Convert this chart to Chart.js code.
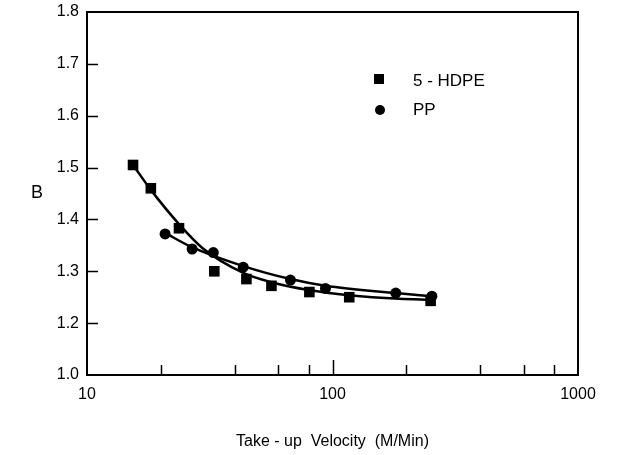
<!DOCTYPE html>
<html lang="en">
<head>
  <meta charset="UTF-8" />
  <title>B vs Take-up Velocity</title>
  <script src="https://cdn.jsdelivr.net/npm/chart.js"></script>
  <style>
    body { margin: 0; background: #fff; }
    #wrap { width: 638px; height: 455px; }
  </style>
</head>
<body>
  <div id="wrap"><canvas id="bChart" width="638" height="455"></canvas></div>

  <script>
    // measured points
    const hdpeX = [15.4, 18.2, 23.7, 33, 44.6, 56.4, 80.5, 117, 251];
    const hdpeY = [1.505, 1.46, 1.383, 1.30, 1.285, 1.272, 1.26, 1.25, 1.243];
    const ppX = [20.8, 26.8, 32.7, 43.3, 67.4, 93.6, 181, 254];
    const ppY = [1.372, 1.343, 1.336, 1.308, 1.283, 1.267, 1.258, 1.252];

    // fitted curves
    const hdpeFitX = [15.4, 18.2, 23.7, 29.5, 43.3, 56.4, 79.9, 117, 187, 251];
    const hdpeFitY = [1.505, 1.457, 1.391, 1.345, 1.297, 1.279, 1.264, 1.254, 1.247, 1.245];
    const ppFitX = [20.8, 26.6, 43.3, 67.4, 93.6, 181, 254];
    const ppFitY = [1.374, 1.347, 1.310, 1.285, 1.272, 1.258, 1.252];

    // axis
    const xLabelTicks = [10, 100, 1000];
    const xTickMarks = [20, 40, 60, 80, 100, 200, 400, 600, 800];
    const yTickMarks = [1.2, 1.3, 1.4, 1.5, 1.6, 1.7];
    const seriesNames = ["5 - HDPE", "PP"];

    const FONT = "'Liberation Sans', Arial, sans-serif";

    const pts = (xs, ys) => xs.map((x, i) => ({ x: x, y: ys[i] }));

    const framePlugin = {
      id: 'frame',
      afterDraw(chart) {
        const ctx = chart.ctx;
        const a = chart.chartArea;
        const xs = chart.scales.x, ys = chart.scales.y;
        ctx.save();
        ctx.strokeStyle = '#000';
        ctx.lineWidth = 2;
        ctx.strokeRect(a.left, a.top, a.right - a.left, a.bottom - a.top);

        // inside tick marks
        ctx.lineWidth = 1.5;
        ctx.beginPath();
        xTickMarks.forEach(v => {
          const px = Math.round(xs.getPixelForValue(v)) + 0.5;
          const len = v === 100 ? 15 : 10;
          ctx.moveTo(px, a.bottom);
          ctx.lineTo(px, a.bottom - len);
        });
        yTickMarks.forEach(v => {
          const py = Math.round(ys.getPixelForValue(v)) + 0.5;
          ctx.moveTo(a.left, py);
          ctx.lineTo(a.left + 11, py);
        });
        ctx.stroke();

        // y title, horizontal
        ctx.fillStyle = '#000';
        ctx.font = '18px ' + FONT;
        ctx.textAlign = 'center';
        ctx.textBaseline = 'middle';
        ctx.fillText('B', 37, 193);

        // legend
        ctx.fillRect(374, 74, 10, 10);
        ctx.beginPath();
        ctx.arc(380, 110, 5, 0, Math.PI * 2);
        ctx.fill();
        ctx.textAlign = 'left';
        ctx.font = '17px ' + FONT;
        ctx.fillText(seriesNames[0], 413, 81);
        ctx.fillText(seriesNames[1], 413, 110);
        ctx.restore();
      }
    };

    new Chart(document.getElementById("bChart"), {
      type: 'scatter',
      data: {
        datasets: [
          {
            label: seriesNames[0] + ' fit',
            data: pts(hdpeFitX, hdpeFitY),
            showLine: true,
            borderColor: '#000',
            borderWidth: 2.5,
            pointRadius: 0,
            cubicInterpolationMode: 'monotone'
          },
          {
            label: seriesNames[1] + ' fit',
            data: pts(ppFitX, ppFitY),
            showLine: true,
            borderColor: '#000',
            borderWidth: 2.5,
            pointRadius: 0,
            cubicInterpolationMode: 'monotone'
          },
          {
            label: seriesNames[0],
            data: pts(hdpeX, hdpeY),
            pointStyle: 'rect',
            pointRadius: 7.5,
            backgroundColor: '#000',
            borderColor: '#000',
            borderWidth: 0
          },
          {
            label: seriesNames[1],
            data: pts(ppX, ppY),
            pointStyle: 'circle',
            pointRadius: 5.5,
            backgroundColor: '#000',
            borderColor: '#000',
            borderWidth: 0
          }
        ]
      },
      options: {
        responsive: false,
        animation: false,
        layout: { padding: { top: 12, right: 60, left: 0, bottom: 0 } },
        plugins: { legend: { display: false }, tooltip: { enabled: false } },
        scales: {
          x: {
            type: 'logarithmic',
            min: 10,
            max: 1000,
            grid: { display: false },
            border: { display: false },
            ticks: {
              color: '#000',
              font: { family: FONT, size: 16 },
              padding: 2,
              maxRotation: 0,
              autoSkip: false,
              callback: v => xLabelTicks.includes(v) ? String(v) : null
            },
            title: {
              display: true,
              text: 'Take - up  Velocity  (M/Min)',
              color: '#000',
              font: { family: FONT, size: 16 },
              padding: { top: 16 }
            },
            afterFit: s => { s.height = 80; }
          },
          y: {
            min: 1.1,
            max: 1.8,
            grid: { display: false },
            border: { display: false },
            ticks: {
              stepSize: 0.1,
              color: '#000',
              font: { family: FONT, size: 16 },
              padding: 0,
              // bottom of the printed axis is labelled 1.0
              callback: v => Math.abs(v - 1.1) < 1e-6 ? '1.0' : v.toFixed(1)
            },
            afterFit: s => { s.width = 87; }
          }
        }
      },
      plugins: [framePlugin]
    });
  </script>
</body>
</html>
